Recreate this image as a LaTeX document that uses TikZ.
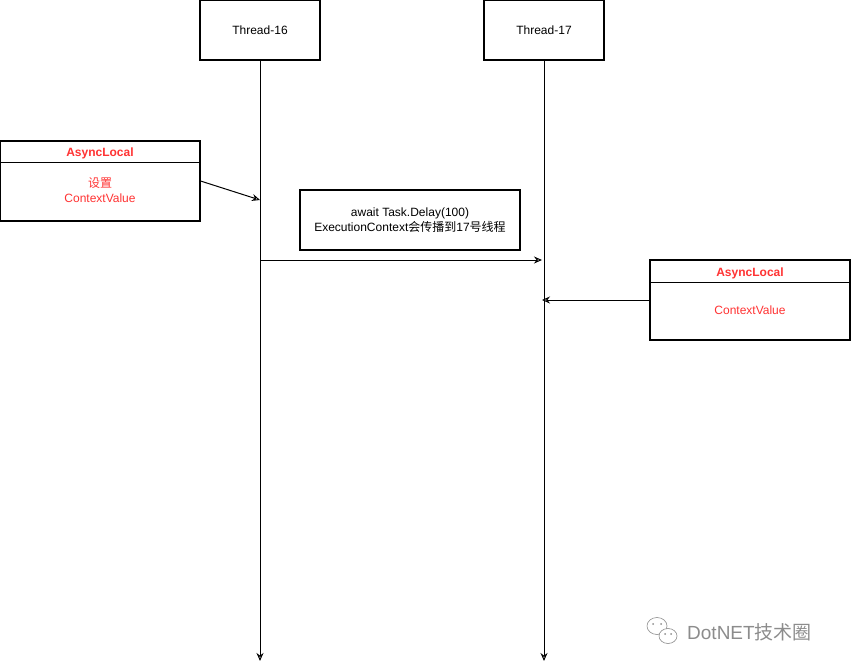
\documentclass[tikz,border=0pt]{standalone}
\usepackage{fontspec}
\setmainfont{Liberation Sans}
\newfontfamily\cjk{Noto Sans CJK SC}
\usetikzlibrary{arrows.meta,positioning,shapes.geometric}
\definecolor{alred}{RGB}{255,51,51}
\definecolor{markgray}{RGB}{140,140,140}
\begin{document}
\begin{tikzpicture}[
    x=1pt, y=-1pt,
    box/.style={draw, line width=1.1pt, fill=white, align=center, font=\fontsize{12}{14.5}\selectfont},
    threadbox/.style={box, minimum width=120pt, minimum height=60pt},
    localbox/.style={box, minimum width=200pt, minimum height=80pt},
    redtext/.style={text=alred, font=\fontsize{12}{15}\selectfont, align=center},
    msg/.style={line width=1pt, -{Stealth[open, length=8pt, width=7pt]}},
    >=stealth
]
\useasboundingbox (0,0) rectangle (851,669);

% Threads
\node[threadbox] (t16) at (260,30) {Thread-16};
\node[threadbox] (t17) at (544,30) {Thread-17};
\coordinate (end16) at (260,661);
\coordinate (end17) at (544,661);
\draw[msg] (t16.south) -- (end16);
\draw[msg] (t17.south) -- (end17);

% Left AsyncLocal
\node[localbox] (al1) at (100,181) {};
\draw[line width=1.1pt] ([yshift=-22pt]al1.north west) -- ([yshift=-22pt]al1.north east);
\node[redtext, font=\fontsize{12}{15}\selectfont\bfseries] (al1title) at (100,153) {AsyncLocal};
\node[redtext] (al1body) at (100,190) {\cjk 设置\\ContextValue};
\coordinate (set16) at (260,200);
\draw[msg] (al1.east) -- (set16);

% Message
\node[box, minimum width=220pt, minimum height=60pt, font=\fontsize{12}{15}\selectfont] (delay) at (410,220)
    {await Task.Delay(100)\\ExecutionContext{\cjk 会传播到}17{\cjk 号线程}};
\coordinate (from16) at (260,260);
\coordinate (to17) at (542,260);
\draw[msg] (from16) -- (to17);

% Right AsyncLocal
\node[localbox] (al2) at (750,300) {};
\draw[line width=1.1pt] ([yshift=-23pt]al2.north west) -- ([yshift=-23pt]al2.north east);
\node[redtext, font=\fontsize{12}{15}\selectfont\bfseries] (al2title) at (750,273) {AsyncLocal};
\node[redtext] (al2body) at (750,310) {ContextValue};
\coordinate (get17) at (542,300);
\draw[msg] (al2.west) -- (get17);

% Mark
\draw[markgray, line width=0.6pt] (657,626) ellipse (10pt and 8.5pt);
\draw[markgray, line width=0.6pt, fill=white] (668,636) ellipse (9pt and 7.5pt);
\fill[markgray] (653,624) circle (1pt) (661,624) circle (1pt) (665,634) circle (1pt) (671,634) circle (1pt);
\node[text=markgray, anchor=west, font=\fontsize{19}{22}\selectfont, inner sep=0pt] (mark) at (687,632) {DotNET\cjk 技术圈};
\end{tikzpicture}
\end{document}
